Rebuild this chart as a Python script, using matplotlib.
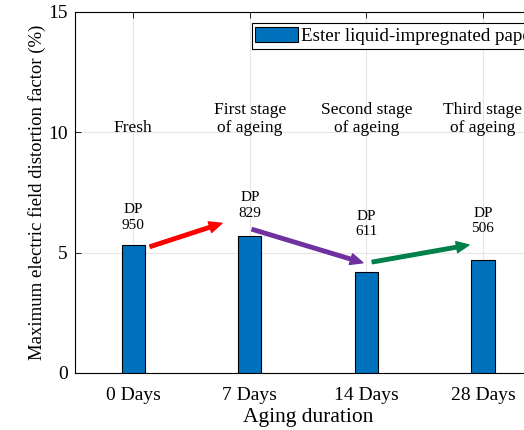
import matplotlib
matplotlib.use("Agg")
import matplotlib.pyplot as plt

plt.rcParams['font.family'] = ['Liberation Serif', 'DejaVu Serif']

days = ['0 Days', '7 Days', '14 Days', '28 Days']
distortion = [5.32, 5.70, 4.20, 4.69]
dp_values = [950, 829, 611, 506]
dp_heights = [5.86, 6.36, 5.60, 5.73]
stages = ['Fresh', 'First stage\nof ageing', 'Second stage\nof ageing', 'Third stage\nof ageing']

# arrow start/end points (x, y) in data units and colours
arrows = [((1.145, 5.25), (1.76, 6.22), '#ff0000'),
          ((2.02, 5.97), (2.97, 4.58), '#7030a0'),
          ((3.05, 4.61), (3.88, 5.32), '#00804a')]

fig = plt.figure(figsize=(5.24, 4.30), dpi=100)
ax = fig.add_axes([0.143, 0.1326, 0.89, 0.8395])

x = [1, 2, 3, 4]
ax.bar(x, distortion, width=0.2, color='#0072bd', edgecolor='black', linewidth=0.8,
       label='Ester liquid-impregnated paper', zorder=3)

for xi, dp, h in zip(x, dp_values, dp_heights):
    ax.text(xi, h, 'DP\n%d' % dp, ha='center', va='bottom', fontsize=11, linespacing=1.25)

for xi, s in zip(x, stages):
    ax.text(xi, 9.85, s, ha='center', va='bottom', fontsize=12.5, linespacing=1.15)

for (x0, y0), (x1, y1), c in arrows:
    ax.annotate('', xy=(x1, y1), xytext=(x0, y0),
                arrowprops=dict(arrowstyle='simple,head_length=0.9,head_width=0.8,tail_width=0.25',
                                color=c, shrinkA=0, shrinkB=0), zorder=4)

ax.set_xlim(0.5, 4.5)
ax.set_ylim(0, 15)
ax.set_xticks(x)
ax.set_xticklabels(days)
ax.set_yticks([0, 5, 10, 15])
ax.tick_params(direction='in', top=True, right=True, labelsize=14, length=4, width=0.6)
ax.tick_params(axis='x', pad=10)
ax.tick_params(axis='y', pad=5)
ax.grid(True, color='#e6e6e6', linewidth=0.8, zorder=0)
ax.set_axisbelow(True)
for sp in ax.spines.values():
    sp.set_linewidth(0.8)

ax.set_xlabel('Aging duration', fontsize=15.5, labelpad=3)
ax.set_ylabel('Maximum electric field distortion factor (%)', fontsize=13.5, labelpad=2)

leg = ax.legend(loc='upper left', bbox_to_anchor=(0.379, 0.97), fontsize=13.7,
                fancybox=False, edgecolor='black', framealpha=1,
                handlelength=2.25, handleheight=0.9, borderpad=0.2, handletextpad=0.15,
                borderaxespad=0)
leg.get_frame().set_linewidth(0.8)

fig.savefig('out.png', dpi=100)
